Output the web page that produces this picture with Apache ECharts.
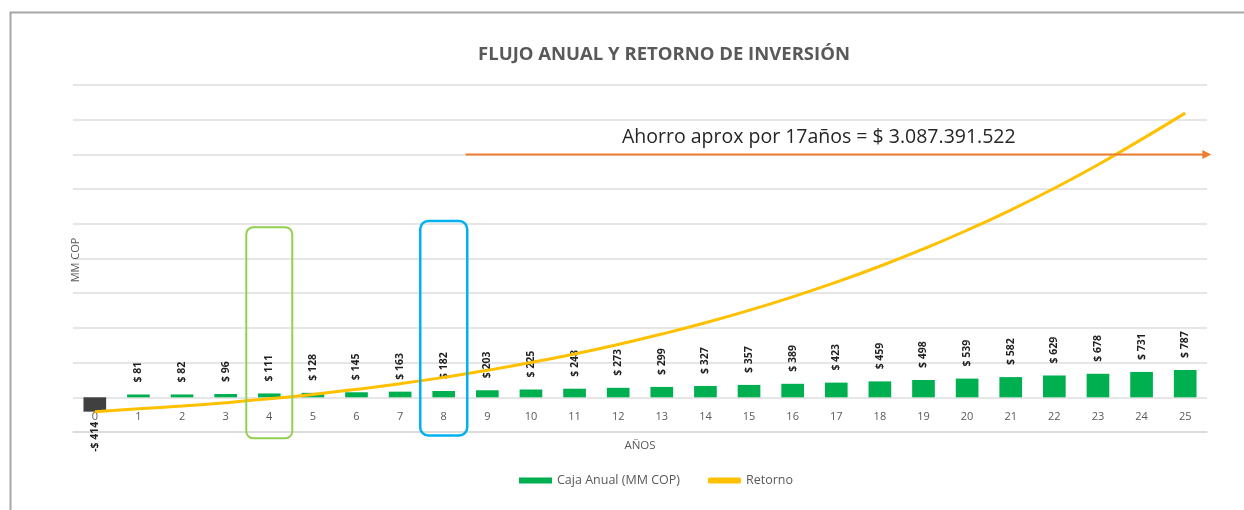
<!DOCTYPE html>
<html>
<head>
<meta charset="utf-8">
<script src="https://cdn.jsdelivr.net/npm/echarts@6/dist/echarts.min.js"></script>
<style>
html,body{margin:0;padding:0;background:#fff;}
#c{width:1244px;height:510px;}
</style>
</head>
<body>
<div id="c"></div>
<script>
const categories = ['0','1','2','3','4','5','6','7','8','9','10','11','12','13','14','15','16','17','18','19','20','21','22','23','24','25'];
const cajaAnual = [-414,81,82,96,111,128,145,163,182,203,225,248,273,299,327,357,389,423,459,498,539,582,629,678,731,787];
const retorno = [-414,-333,-251,-155,-44,84,229,392,574,777,1002,1250,1523,1822,2149,2506,2895,3318,3777,4275,4814,5396,6025,6703,7434,8190];
const yMin = -1000, yMax = 9000, yStep = 1000;
const titleText = 'FLUJO ANUAL Y RETORNO DE INVERSIÓN';
const noteText = 'Ahorro aprox por 17años = $ 3.087.391.522';
const seriesNames = ['Caja Anual (MM COP)', 'Retorno'];

const FONT = '"Open Sans", Lato, sans-serif';
const chart = echarts.init(document.getElementById('c'), null, {renderer:'canvas'});

const barData = cajaAnual.map(v => v < 0 ? {
  value: v,
  itemStyle: {color: '#404040'},
  label: {position: 'bottom', align: 'right', distance: 10}
} : v);

chart.setOption({
  animation: false,
  backgroundColor: '#fff',
  textStyle: {fontFamily: FONT},
  title: {
    text: titleText, left: 659, top: 40, textAlign: 'center',
    textStyle: {fontFamily: FONT, fontSize: 18.5, fontWeight: 'bold', color: '#595959'}
  },
  legend: {
    left: 514, top: 469, itemGap: 28, itemWidth: 33, itemHeight: 6,
    textStyle: {fontFamily: FONT, fontSize: 12.5, color: '#595959'},
    data: [
      {name: seriesNames[0], icon: 'rect'},
      {name: seriesNames[1], icon: 'roundRect', itemStyle: {color: '#FFC000'}}
    ]
  },
  grid: {left: 73, right: 37, top: 85, bottom: 78, outerBoundsMode: 'none'},
  xAxis: {
    type: 'category', data: categories, position: 'bottom',
    axisLine: {show: true, onZero: false, lineStyle: {color: '#d9d9d9', width: 1.5}},
    axisTick: {show: false},
    axisLabel: {color: '#595959', fontSize: 11, margin: -15, verticalAlign: 'middle', fontFamily: FONT},
    name: 'AÑOS', nameLocation: 'middle', nameGap: 8, nameMoveOverlap: false,
    nameTextStyle: {color: '#595959', fontSize: 11.5, fontFamily: FONT}
  },
  yAxis: {
    type: 'value', min: yMin, max: yMax, interval: yStep,
    axisLabel: {show: false}, axisLine: {show: false}, axisTick: {show: false},
    splitLine: {lineStyle: {color: '#dedede', width: 1.5}}
  },
  series: [
    {
      name: seriesNames[0], type: 'bar', data: barData, barWidth: '52%',
      itemStyle: {color: '#00B050'},
      label: {
        show: true, position: 'top', rotate: 90, distance: 12,
        align: 'left', verticalAlign: 'middle',
        fontSize: 10.5, fontWeight: 'bold', color: '#1f1f1f', fontFamily: FONT,
        formatter: p => (p.value < 0 ? '-$ ' + Math.abs(p.value) : '$ ' + p.value)
      },
      z: 2
    },
    {
      name: seriesNames[1], type: 'line', data: retorno, smooth: true,
      symbol: 'none', lineStyle: {color: '#FFC000', width: 3},
      itemStyle: {color: '#FFC000'}, z: 5
    }
  ]
});

function px(i){ return chart.convertToPixel({xAxisIndex:0}, i); }
function py(v){ return chart.convertToPixel({yAxisIndex:0}, v); }
const step = px(1) - px(0);
const xAt = f => px(0) + f * step;

const gBoxTop = py(4900), gBoxBot = py(-1180);
const bBoxTop = py(5080), bBoxBot = py(-1100);
const arrowY = py(7000);
const ax0 = xAt(8.5), ax1 = xAt(25.6);

chart.setOption({
  graphic: [
    {type: 'rect', left: 8, top: 10, silent: true, z: 0,
     shape: {x: 0, y: 0, width: 1260, height: 520},
     style: {fill: 'none', stroke: '#a6a6a6', lineWidth: 2}},
    {type: 'text', x: 76, y: 260, rotation: Math.PI/2, silent: true,
     style: {text: 'MM COP', fill: '#595959', font: '11px ' + FONT, align: 'center', verticalAlign: 'middle'}},
    {type: 'rect', silent: true, z: 10,
     shape: {x: xAt(4) - 23, y: gBoxTop, width: 46, height: gBoxBot - gBoxTop, r: 7},
     style: {fill: 'none', stroke: '#92D050', lineWidth: 2}},
    {type: 'rect', silent: true, z: 10,
     shape: {x: xAt(8) - 23.5, y: bBoxTop, width: 47, height: bBoxBot - bBoxTop, r: 8},
     style: {fill: 'none', stroke: '#00B0F0', lineWidth: 2.5}},
    {type: 'line', silent: true, z: 10,
     shape: {x1: ax0, y1: arrowY, x2: ax1 - 6, y2: arrowY},
     style: {stroke: '#ED7D31', lineWidth: 2}},
    {type: 'polygon', silent: true, z: 10,
     shape: {points: [[ax1, arrowY], [ax1 - 9, arrowY - 4.5], [ax1 - 9, arrowY + 4.5]]},
     style: {fill: '#ED7D31'}},
    {type: 'text', silent: true, z: 10, x: xAt(16.6), y: py(7500),
     style: {text: noteText, fill: '#262626', font: '19.5px ' + FONT, align: 'center', verticalAlign: 'middle'}}
  ]
});
</script>
</body>
</html>
